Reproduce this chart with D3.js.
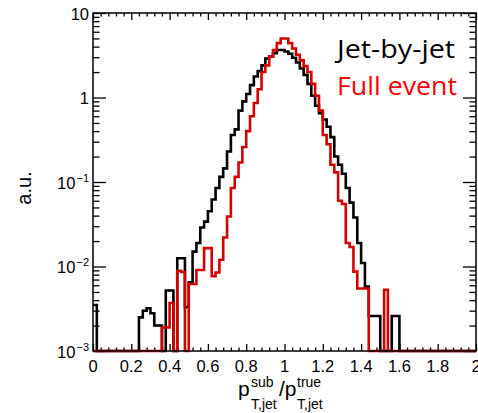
<!DOCTYPE html>
<html>
<head>
<meta charset="utf-8">
<script src="https://cdn.jsdelivr.net/npm/d3@7"></script>
<style>
  body { margin: 0; background: #fff; }
  svg { display: block; }
</style>
</head>
<body>
<div class="histChart"></div>
<script>
const WIDTH = 478;
const HEIGHT = 413;
const LEFT = 93, RIGHT = 476, TOP = 13, BOTTOM = 351;

// histogram bin contents, bins of 0.02 from 0 to 2
const BIN_WIDTH = 0.02;
var jetByJet = [
    0.0035, 0, 0, 0, 0, 0, 0, 0, 0, 0,
    0, 0, 0.0025, 0.003, 0.0032, 0.0028, 0.002, 0.002, 0, 0.0052,
    0.0052, 0, 0.0125, 0.0125, 0.0033, 0.0065, 0.015, 0.019, 0.029, 0.034,
    0.045, 0.062, 0.085, 0.115, 0.145, 0.23, 0.36, 0.42, 0.7, 0.9,
    1.1, 1.4, 1.77, 2.05, 2.4, 2.9, 3.05, 3.35, 3.65, 3.65,
    3.5, 3.3, 2.95, 2.6, 2.2, 1.85, 1.45, 1.05, 0.8, 0.65,
    0.55, 0.45, 0.34, 0.2, 0.16, 0.125, 0.085, 0.057, 0.038, 0.019,
    0.011, 0.0058, 0.0026, 0.0026, 0.0026, 0, 0, 0, 0.0026, 0.0026,
    0, 0, 0, 0, 0, 0, 0, 0, 0, 0,
    0, 0, 0, 0, 0, 0, 0, 0, 0, 0
];
var fullEvent = [
    0, 0, 0, 0, 0, 0, 0, 0, 0, 0,
    0, 0, 0, 0, 0, 0, 0, 0, 0.0019, 0.0019,
    0.0037, 0, 0.0089, 0.0086, 0, 0.0062, 0.0062, 0.0091, 0.0091, 0.0165,
    0.0165, 0.0077, 0.0085, 0.012, 0.022, 0.039, 0.085, 0.115, 0.17, 0.26,
    0.4, 0.6, 0.86, 1.25, 2.0, 2.4, 3.05, 3.65, 4.4, 5.0,
    5.0, 4.4, 3.8, 3.2, 2.75, 2.35, 2.0, 1.45, 1.05, 0.7,
    0.36, 0.28, 0.16, 0.13, 0.06, 0.055, 0.019, 0.017, 0.0087, 0.0055,
    0.0055, 0.0055, 0, 0, 0, 0, 0.0053, 0, 0, 0,
    0, 0, 0, 0, 0, 0, 0, 0, 0, 0,
    0, 0, 0, 0, 0, 0, 0, 0, 0, 0
];

var xMajorTicks = [0, 0.2, 0.4, 0.6, 0.8, 1, 1.2, 1.4, 1.6, 1.8, 2];
var xTickLabels = ['0', '0.2', '0.4', '0.6', '0.8', '1', '1.2', '1.4', '1.6', '1.8', '2'];
var yMajorTicks = [10, 1, 0.1, 0.01, 0.001];
var yTickBase = ['10', '1', '10', '10', '10'];
var yTickExp = ['', '', '\u22121', '\u22122', '\u22123'];
var legendNames = ['Jet-by-jet', 'Full event'];

var xScale = d3.scaleLinear().domain([0, 2]).range([LEFT, RIGHT]);
var yScale = d3.scaleLog().domain([1e-3, 10]).range([BOTTOM, TOP]);

var svg = d3.select('.histChart').append('svg')
    .attr('width', WIDTH)
    .attr('height', HEIGHT);

// minor ticks
var xMinor = d3.range(0, 2.0001, 0.04).filter(function (v) {
    return Math.abs(v / 0.2 - Math.round(v / 0.2)) > 1e-6;
});
var yMinor = [];
[1e-3, 1e-2, 1e-1, 1].forEach(function (d) {
    for (var k = 2; k <= 9; k++) yMinor.push(d * k);
});

function tickAxis(axis, transform) {
    var g = svg.append('g').attr('transform', transform).call(axis);
    g.select('.domain').remove();
    g.selectAll('line').attr('stroke', '#000').attr('stroke-width', 1.3);
    return g;
}

var noLabel = function () { return ''; };
tickAxis(d3.axisBottom(xScale).tickValues(xMajorTicks).tickSize(-7).tickFormat(noLabel), 'translate(0,' + BOTTOM + ')');
tickAxis(d3.axisBottom(xScale).tickValues(xMinor).tickSize(-3.5).tickFormat(noLabel), 'translate(0,' + BOTTOM + ')');
tickAxis(d3.axisTop(xScale).tickValues(xMajorTicks).tickSize(-7).tickFormat(noLabel), 'translate(0,' + TOP + ')');
tickAxis(d3.axisTop(xScale).tickValues(xMinor).tickSize(-3.5).tickFormat(noLabel), 'translate(0,' + TOP + ')');
tickAxis(d3.axisLeft(yScale).tickValues(yMajorTicks).tickSize(-13).tickFormat(noLabel), 'translate(' + LEFT + ',0)');
tickAxis(d3.axisLeft(yScale).tickValues(yMinor).tickSize(-6.5).tickFormat(noLabel), 'translate(' + LEFT + ',0)');
tickAxis(d3.axisRight(yScale).tickValues(yMajorTicks).tickSize(-13).tickFormat(noLabel), 'translate(' + RIGHT + ',0)');
tickAxis(d3.axisRight(yScale).tickValues(yMinor).tickSize(-6.5).tickFormat(noLabel), 'translate(' + RIGHT + ',0)');

// tick labels
svg.append('g').selectAll('text').data(xMajorTicks).enter().append('text')
    .attr('x', function (d) { return xScale(d); })
    .attr('y', BOTTOM + 21)
    .attr('text-anchor', 'middle')
    .style('font-family', '"Liberation Sans", Arial, sans-serif')
    .style('font-size', '16.5px')
    .text(function (d, i) { return xTickLabels[i]; });

var yLab = svg.append('g').selectAll('text').data(yMajorTicks).enter().append('text')
    .attr('x', LEFT - 4)
    .attr('y', function (d) { return yScale(d) + 6.5; })
    .attr('text-anchor', 'end')
    .style('font-family', '"Liberation Sans", Arial, sans-serif')
    .style('font-size', '16.5px');
yLab.append('tspan').text(function (d, i) { return yTickBase[i]; });
yLab.append('tspan')
    .attr('dy', -7)
    .attr('dx', 1)
    .style('font-size', '11px')
    .text(function (d, i) { return yTickExp[i]; });

// histograms as step lines
function stepPoints(values) {
    var pts = [];
    values.forEach(function (v, i) {
        var c = Math.max(v, 1e-3);
        pts.push([i * BIN_WIDTH, c]);
        pts.push([(i + 1) * BIN_WIDTH, c]);
    });
    return pts;
}
var line = d3.line()
    .x(function (p) { return xScale(p[0]); })
    .y(function (p) { return yScale(p[1]); });

svg.append('path')
    .attr('d', line(stepPoints(jetByJet)))
    .attr('fill', 'none')
    .attr('stroke', '#000')
    .attr('stroke-width', 2.6);
svg.append('path')
    .attr('d', line(stepPoints(fullEvent)))
    .attr('fill', 'none')
    .attr('stroke', '#d40000')
    .attr('stroke-width', 2.6);

// frame
svg.append('rect')
    .attr('x', LEFT).attr('y', TOP)
    .attr('width', RIGHT - LEFT).attr('height', BOTTOM - TOP)
    .attr('fill', 'none').attr('stroke', '#000').attr('stroke-width', 1.5);

// axis titles
svg.append('text')
    .attr('transform', 'translate(31,188) rotate(-90)')
    .attr('text-anchor', 'middle')
    .style('font-family', '"Liberation Sans", Arial, sans-serif')
    .style('font-size', '20px')
    .text('a.u.');

var title = svg.append('g')
    .style('font-family', '"Liberation Sans", Arial, sans-serif');
function titleText(x, y, size, str) {
    title.append('text').attr('x', x).attr('y', y).style('font-size', size + 'px').text(str);
}
titleText(238, 396, 21, 'p');
titleText(251, 387, 14, 'sub');
titleText(251, 409, 14, 'T,jet');
titleText(279, 396, 21, '/p');
titleText(297, 387, 14, 'true');
titleText(297, 409, 14, 'T,jet');

// legend
var legendColors = ['#000', '#ff0000'];
svg.append('g').selectAll('text').data(legendNames).enter().append('text')
    .attr('x', 337)
    .attr('y', function (d, i) { return 58 + i * 37; })
    .attr('textLength', function (d, i) { return i === 0 ? 118 : 120; })
    .attr('lengthAdjust', 'spacingAndGlyphs')
    .style('font-family', '"Open Sans", sans-serif')
    .style('font-size', '26px')
    .attr('fill', function (d, i) { return legendColors[i]; })
    .text(function (d) { return d; });
</script>
</body>
</html>
